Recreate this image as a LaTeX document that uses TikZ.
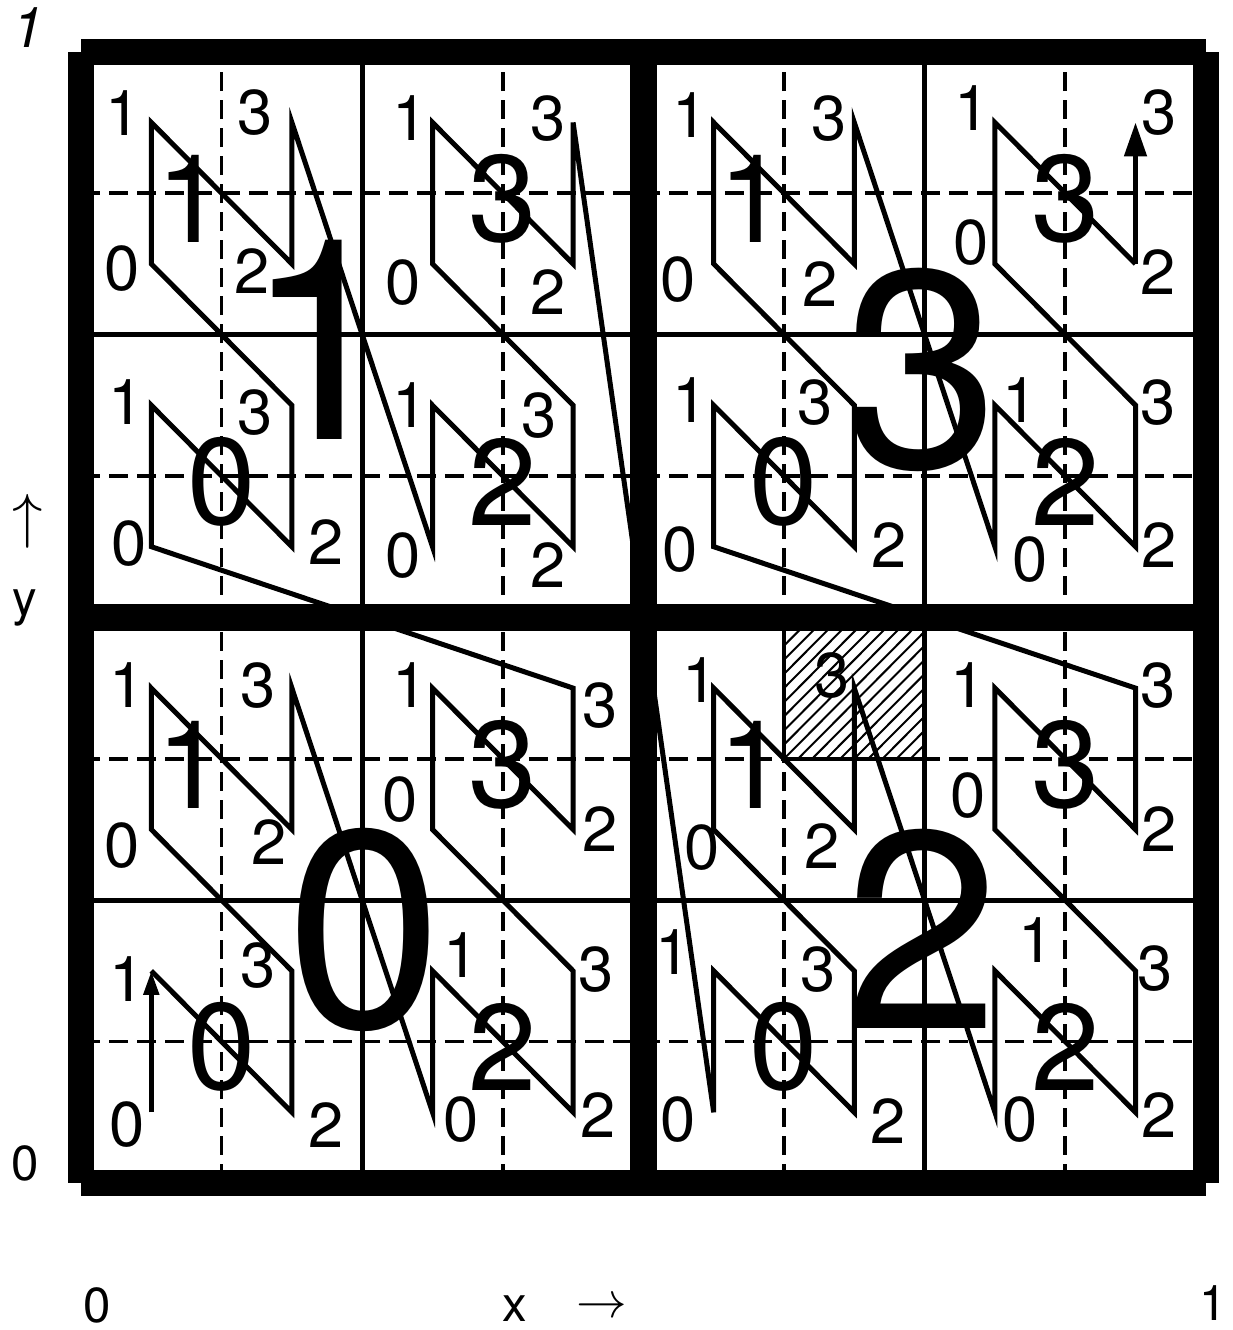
\documentclass[tikz,border=0pt]{standalone}
\usepackage{fontspec}
\setmainfont{TeX Gyre Heros}
\usetikzlibrary{arrows.meta}

\begin{document}
\begin{tikzpicture}[>=Stealth]
    \tikzstyle{frame} = [line width=0.26cm, line cap=butt]
    \tikzstyle{quarterline} = [line width=0.05cm]
    \tikzstyle{eighthline} = [line width=0.035cm, dash pattern=on 0.19cm off 0.09cm]
    \tikzstyle{hatchline} = [line width=0.02cm]
    \tikzstyle{curve} = [line width=0.05cm]
    \tikzstyle{small} = [inner sep=0pt, font=\fontsize{18}{18}\selectfont]
    \tikzstyle{medium} = [inner sep=0pt, font=\fontsize{35}{35}\selectfont]
    \tikzstyle{big} = [inner sep=0pt, font=\fontsize{80}{80}\selectfont]
    \tikzstyle{axis} = [inner sep=0pt, font=\fontsize{14}{14}\selectfont]

    \useasboundingbox (0,0) rectangle (12.33,13.30);

    % Axis labels
    \node [axis, font=\fontsize{16}{16}\selectfont\itshape] (ytop) at (0.28,13.02) {1};
    \node [axis] (yzero) at (0.25,1.67) {0};
    \node [axis, font=\fontsize{16}{16}\selectfont] (yarrow) at (0.28,8.09) {$\uparrow$};
    \node [axis] (yname) at (0.25,7.22) {y};
    \node [axis] (xzero) at (0.97,0.25) {0};
    \node [axis] (xname) at (5.15,0.21) {x};
    \node [axis] (xarrow) at (6.02,0.22) {$\rightarrow$};
    \node [axis] (xone) at (12.13,0.27) {1};

    \begin{scope}[shift={(0.81,1.47)}, x=1.406cm, y=1.414cm]
    % Eighth grid (dashed)
    \foreach \k in {1,3,5,7} {
        \draw [eighthline] (\k,0) -- (\k,8);
        \draw [eighthline] (0,\k) -- (8,\k);
    }

    % Hatched cell
    \begin{scope}
        \clip (5,3) rectangle (6,4);
        \foreach \k in {-10,...,10}
            \draw [hatchline] (5+\k/10,3) -- ++(1,1);
    \end{scope}
    \draw [line width=0.04cm] (5,4) -- (5,3) -- (6,3);

    % Quarter grid
    \foreach \k in {2,6} {
        \draw [quarterline] (\k,0) -- (\k,8);
        \draw [quarterline] (0,\k) -- (8,\k);
    }

    % Curve points (0 BL, 1 TL, 2 BR, 3 TR on every level)
    \foreach \qd/\qx/\qy in {0/0/0,1/0/1,2/1/0,3/1/1}
        \foreach \qr/\rx/\ry in {0/0/0,1/0/1,2/1/0,3/1/1}
            \foreach \c/\cx/\cy in {0/0/0,1/0/1,2/1/0,3/1/1} {
                \pgfmathtruncatemacro{\n}{16*\qd+4*\qr+\c}
                \coordinate (p\n) at (4*\qx+2*\rx+\cx+0.5, 4*\qy+2*\ry+\cy+0.5);
            }

    % Curve
    \draw [curve, -{Triangle[length=0.24cm, width=0.15cm]}] (p0) -- (p1);
    \draw [curve] (p1) \foreach \n in {2,...,62} { -- (p\n) };
    \draw [curve, -{Triangle[length=0.34cm, width=0.22cm]}] (p62) -- (p63);

    % Small labels
    \foreach \nm/\t/\x/\y in {
        s0-0-0/0/0.33/0.41, s0-0-1/1/0.33/1.44, s0-0-2/2/1.74/0.41, s0-0-3/3/1.26/1.54,
        s0-1-0/0/0.29/2.39, s0-1-1/1/0.33/3.52, s0-1-2/2/1.34/2.41, s0-1-3/3/1.26/3.52,
        s0-2-0/0/2.70/0.45, s0-2-1/1/2.70/1.61, s0-2-2/2/3.68/0.48, s0-2-3/3/3.66/1.51,
        s0-3-0/0/2.27/2.71, s0-3-1/1/2.34/3.52, s0-3-2/2/3.69/2.50, s0-3-3/3/3.69/3.38,
        s1-0-0/0/0.34/4.52, s1-0-1/1/0.32/5.52, s1-0-2/2/1.74/4.53, s1-0-3/3/1.24/5.45,
        s1-1-0/0/0.29/6.47, s1-1-1/1/0.30/7.57, s1-1-2/2/1.22/6.45, s1-1-3/3/1.24/7.57,
        s1-2-0/0/2.29/4.44, s1-2-1/1/2.34/5.50, s1-2-2/2/3.32/4.37, s1-2-3/3/3.26/5.43,
        s1-3-0/0/2.29/6.37, s1-3-1/1/2.34/7.53, s1-3-2/2/3.32/6.30, s1-3-3/3/3.32/7.53,
        s2-0-0/0/4.25/0.45, s2-0-1/1/4.21/1.63, s2-0-2/2/5.74/0.44, s2-0-3/3/5.24/1.51,
        s2-1-0/0/4.42/2.37, s2-1-1/1/4.40/3.56, s2-1-2/2/5.27/2.38, s2-1-3/3/5.34/3.59,
        s2-2-0/0/6.68/0.45, s2-2-1/1/6.79/1.72, s2-2-2/2/7.67/0.48, s2-2-3/3/7.64/1.52,
        s2-3-0/0/6.31/2.74, s2-3-1/1/6.31/3.52, s2-3-2/2/7.67/2.50, s2-3-3/3/7.66/3.52,
        s3-0-0/0/4.26/4.48, s3-0-1/1/4.33/5.54, s3-0-2/2/5.75/4.51, s3-0-3/3/5.22/5.52,
        s3-1-0/0/4.25/6.39, s3-1-1/1/4.33/7.55, s3-1-2/2/5.26/6.36, s3-1-3/3/5.32/7.53,
        s3-2-0/0/6.75/4.41, s3-2-1/1/6.68/5.54, s3-2-2/2/7.67/4.51, s3-2-3/3/7.66/5.52,
        s3-3-0/0/6.33/6.65, s3-3-1/1/6.34/7.60, s3-3-2/2/7.66/6.44, s3-3-3/3/7.67/7.57}
        \node [small] (\nm) at (\x,\y) {\t};

    % Medium labels (quarters)
    \foreach \qd/\qx/\qy in {0/0/0,1/0/1,2/1/0,3/1/1}
        \foreach \qr/\rx/\ry in {0/0/0,1/0/1,2/1/0,3/1/1} {
            \pgfmathsetmacro{\dx}{\qr==1 ? -0.22 : 0}
            \node [medium] (m\qd-\qr) at (4*\qx+2*\rx+1+\dx, 4*\qy+2*\ry+0.96) {\qr};
        }

    % Big labels (quadrants)
    \node [big] (b0) at (2.02,1.79) {0};
    \node [big] (b1) at (1.72,5.96) {1};
    \node [big] (b2) at (5.98,1.80) {2};
    \node [big] (b3) at (5.98,5.75) {3};

    % Frame and halves
    \draw [frame] (0,0) -- (8,0) (8,0) -- (8,8) (8,8) -- (0,8) (0,8) -- (0,0);
    \draw [frame, line width=0.27cm] (4,0) -- (4,8) (0,4) -- (8,4);
    \end{scope}
\end{tikzpicture}
\end{document}
